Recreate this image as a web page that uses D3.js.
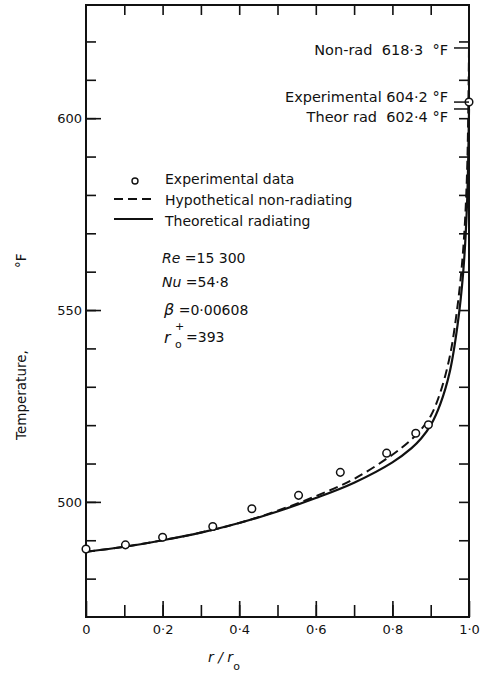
<!DOCTYPE html>
<html>
<head>
    <title></title>
    <meta charset="utf-8" />
    <script src="https://cdn.jsdelivr.net/npm/d3@7"></script>
    <style>
        body { margin: 0; background: #fff; }
        text { font-family: "DejaVu Sans", sans-serif; fill: #111; }
        .axis path { display: none; }
        .axis line { stroke: #111; stroke-width: 1.6; }
        .axis text { font-size: 13px; }
    </style>
</head>
<body>
    <script>
        // experimental points
        var expX = [0, 0.103, 0.2, 0.331, 0.433, 0.555, 0.664, 0.785, 0.861, 0.894, 1.0];
        var expT = [487.7, 488.8, 490.8, 493.6, 498.2, 501.7, 507.7, 512.7, 517.9, 520.1, 604.2];

        // curves
        var curveX = [0, 0.1, 0.2, 0.3, 0.4, 0.5, 0.6, 0.7, 0.8, 0.85, 0.875, 0.9, 0.925, 0.95, 0.97, 0.985, 0.995, 1.0];
        var radT = [487, 488.3, 490, 492, 494.5, 497.5, 501, 505, 510.3, 514, 516.5, 520, 525.5, 534, 546, 560, 578, 602.4];
        var nonRadT = [487, 488.3, 490, 492, 494.5, 497.7, 501.5, 506, 512.3, 516.3, 518.9, 522.4, 528.5, 538, 551, 566, 586, 618.3];

        var xTicks = [0, 0.2, 0.4, 0.6, 0.8, 1.0];
        var xTickLabels = ['0', '0·2', '0·4', '0·6', '0·8', '1·0'];
        var yTicks = [500, 550, 600];

        var svg = d3.select('body').append('svg').attr('width', 487).attr('height', 677);

        var x = d3.scaleLinear().domain([0, 1]).range([86, 469]);
        var y = d3.scaleLinear().domain([470, 629.5]).range([617, 5]);

        var minorX = d3.range(1, 10).map(function (i) { return i / 10; });
        var minorY = d3.range(480, 630, 10);

        // bottom axis
        svg.append('g').attr('class', 'axis').attr('transform', 'translate(0,617)')
            .call(d3.axisBottom(x).tickValues(minorX).tickSize(-12).tickFormat(''));
        svg.append('g').attr('class', 'axis').attr('transform', 'translate(0,617)')
            .call(d3.axisBottom(x).tickValues(xTicks).tickSize(-16).tickPadding(8)
                .tickFormat(function (d, i) { return xTickLabels[i]; }));
        // top axis
        svg.append('g').attr('class', 'axis').attr('transform', 'translate(0,5)')
            .call(d3.axisTop(x).tickValues(minorX).tickSize(-10).tickFormat(''));
        // left axis
        svg.append('g').attr('class', 'axis').attr('transform', 'translate(86,0)')
            .call(d3.axisLeft(y).tickValues(minorY).tickSize(-10).tickFormat(''));
        svg.append('g').attr('class', 'axis').attr('transform', 'translate(86,0)')
            .call(d3.axisLeft(y).tickValues(yTicks).tickSize(-15).tickPadding(4));
        // right axis
        svg.append('g').attr('class', 'axis').attr('transform', 'translate(469,0)')
            .call(d3.axisRight(y).tickValues(minorY).tickSize(-10).tickFormat(''));

        // frame
        svg.append('rect').attr('x', 86).attr('y', 5).attr('width', 383).attr('height', 612)
            .attr('fill', 'none').attr('stroke', '#111').attr('stroke-width', 2);

        var line = d3.line()
            .x(function (d) { return x(d[0]); })
            .y(function (d) { return y(d[1]); })
            .curve(d3.curveCatmullRom.alpha(0.5));

        svg.append('path').datum(curveX.map(function (v, i) { return [v, nonRadT[i]]; }))
            .attr('d', line).attr('fill', 'none').attr('stroke', '#111')
            .attr('stroke-width', 2).attr('stroke-dasharray', '9,5');
        svg.append('path').datum(curveX.map(function (v, i) { return [v, radT[i]]; }))
            .attr('d', line).attr('fill', 'none').attr('stroke', '#111').attr('stroke-width', 2.2);

        svg.selectAll('.pt').data(expX).enter().append('circle')
            .attr('class', 'pt')
            .attr('cx', function (d) { return x(d); })
            .attr('cy', function (d, i) { return y(expT[i]); })
            .attr('r', 3.8).attr('fill', '#fff').attr('stroke', '#111').attr('stroke-width', 1.5);

        // end-value leaders
        var endVals = [618.3, 604.2, 602.4];
        var endLabels = ['Non-rad  618·3  °F', 'Experimental 604·2 °F', 'Theor rad  602·4 °F'];
        var endTextY = [50, 97, 117];
        svg.selectAll('.lead').data(endVals).enter().append('line')
            .attr('x1', 454).attr('x2', 469)
            .attr('y1', function (d) { return y(d); }).attr('y2', function (d) { return y(d); })
            .attr('stroke', '#111').attr('stroke-width', 1.5);
        svg.selectAll('.endlab').data(endLabels).enter().append('text')
            .attr('x', 448).attr('y', function (d, i) { return endTextY[i]; })
            .attr('dy', '0.35em').attr('text-anchor', 'end')
            .style('font-size', '14.5px').style('white-space', 'pre')
            .text(function (d) { return d; });

        // legend
        var leg = svg.append('g').style('font-size', '14px');
        leg.append('circle').attr('cx', 135).attr('cy', 181).attr('r', 3)
            .attr('fill', '#fff').attr('stroke', '#111').attr('stroke-width', 1.4);
        leg.append('line').attr('x1', 114).attr('x2', 153).attr('y1', 199).attr('y2', 199)
            .attr('stroke', '#111').attr('stroke-width', 2).attr('stroke-dasharray', '9,5');
        leg.append('line').attr('x1', 114).attr('x2', 153).attr('y1', 219).attr('y2', 219)
            .attr('stroke', '#111').attr('stroke-width', 2.2);
        leg.append('text').attr('x', 165).attr('y', 179).attr('dy', '0.35em').text('Experimental data');
        leg.append('text').attr('x', 165).attr('y', 200).attr('dy', '0.35em').text('Hypothetical non-radiating');
        leg.append('text').attr('x', 165).attr('y', 221).attr('dy', '0.35em').text('Theoretical radiating');

        // parameters
        var par = svg.append('g').style('font-size', '14px');
        var t1 = par.append('text').attr('x', 162).attr('y', 258).attr('dy', '0.35em');
        t1.append('tspan').style('font-style', 'italic').text('Re');
        t1.append('tspan').text(' =15 300');
        var t2 = par.append('text').attr('x', 162).attr('y', 282).attr('dy', '0.35em');
        t2.append('tspan').style('font-style', 'italic').text('Nu');
        t2.append('tspan').text(' =54·8');
        var t3 = par.append('text').attr('x', 164).attr('y', 310).attr('dy', '0.35em');
        t3.append('tspan').style('font-style', 'italic').style('font-size', '16px').text('β');
        t3.append('tspan').text('  =0·00608');
        par.append('text').attr('x', 164).attr('y', 337).attr('dy', '0.35em')
            .style('font-style', 'italic').style('font-size', '16px').text('r');
        par.append('text').attr('x', 175).attr('y', 326).attr('dy', '0.35em')
            .style('font-size', '11px').text('+');
        par.append('text').attr('x', 175).attr('y', 344).attr('dy', '0.35em')
            .style('font-size', '11px').text('o');
        par.append('text').attr('x', 186).attr('y', 337).attr('dy', '0.35em').text('=393');

        // axis titles
        svg.append('text').attr('transform', 'translate(26,440) rotate(-90)')
            .style('font-size', '13.5px').text('Temperature,');
        svg.append('text').attr('transform', 'translate(26,268) rotate(-90)')
            .style('font-size', '13.5px').text('°F');
        var xt = svg.append('text').attr('x', 208).attr('y', 662).style('font-size', '14px');
        xt.append('tspan').style('font-style', 'italic').text('r / r');
        xt.append('tspan').attr('dy', 8).style('font-size', '11px').text('o');
    </script>
</body>
</html>
